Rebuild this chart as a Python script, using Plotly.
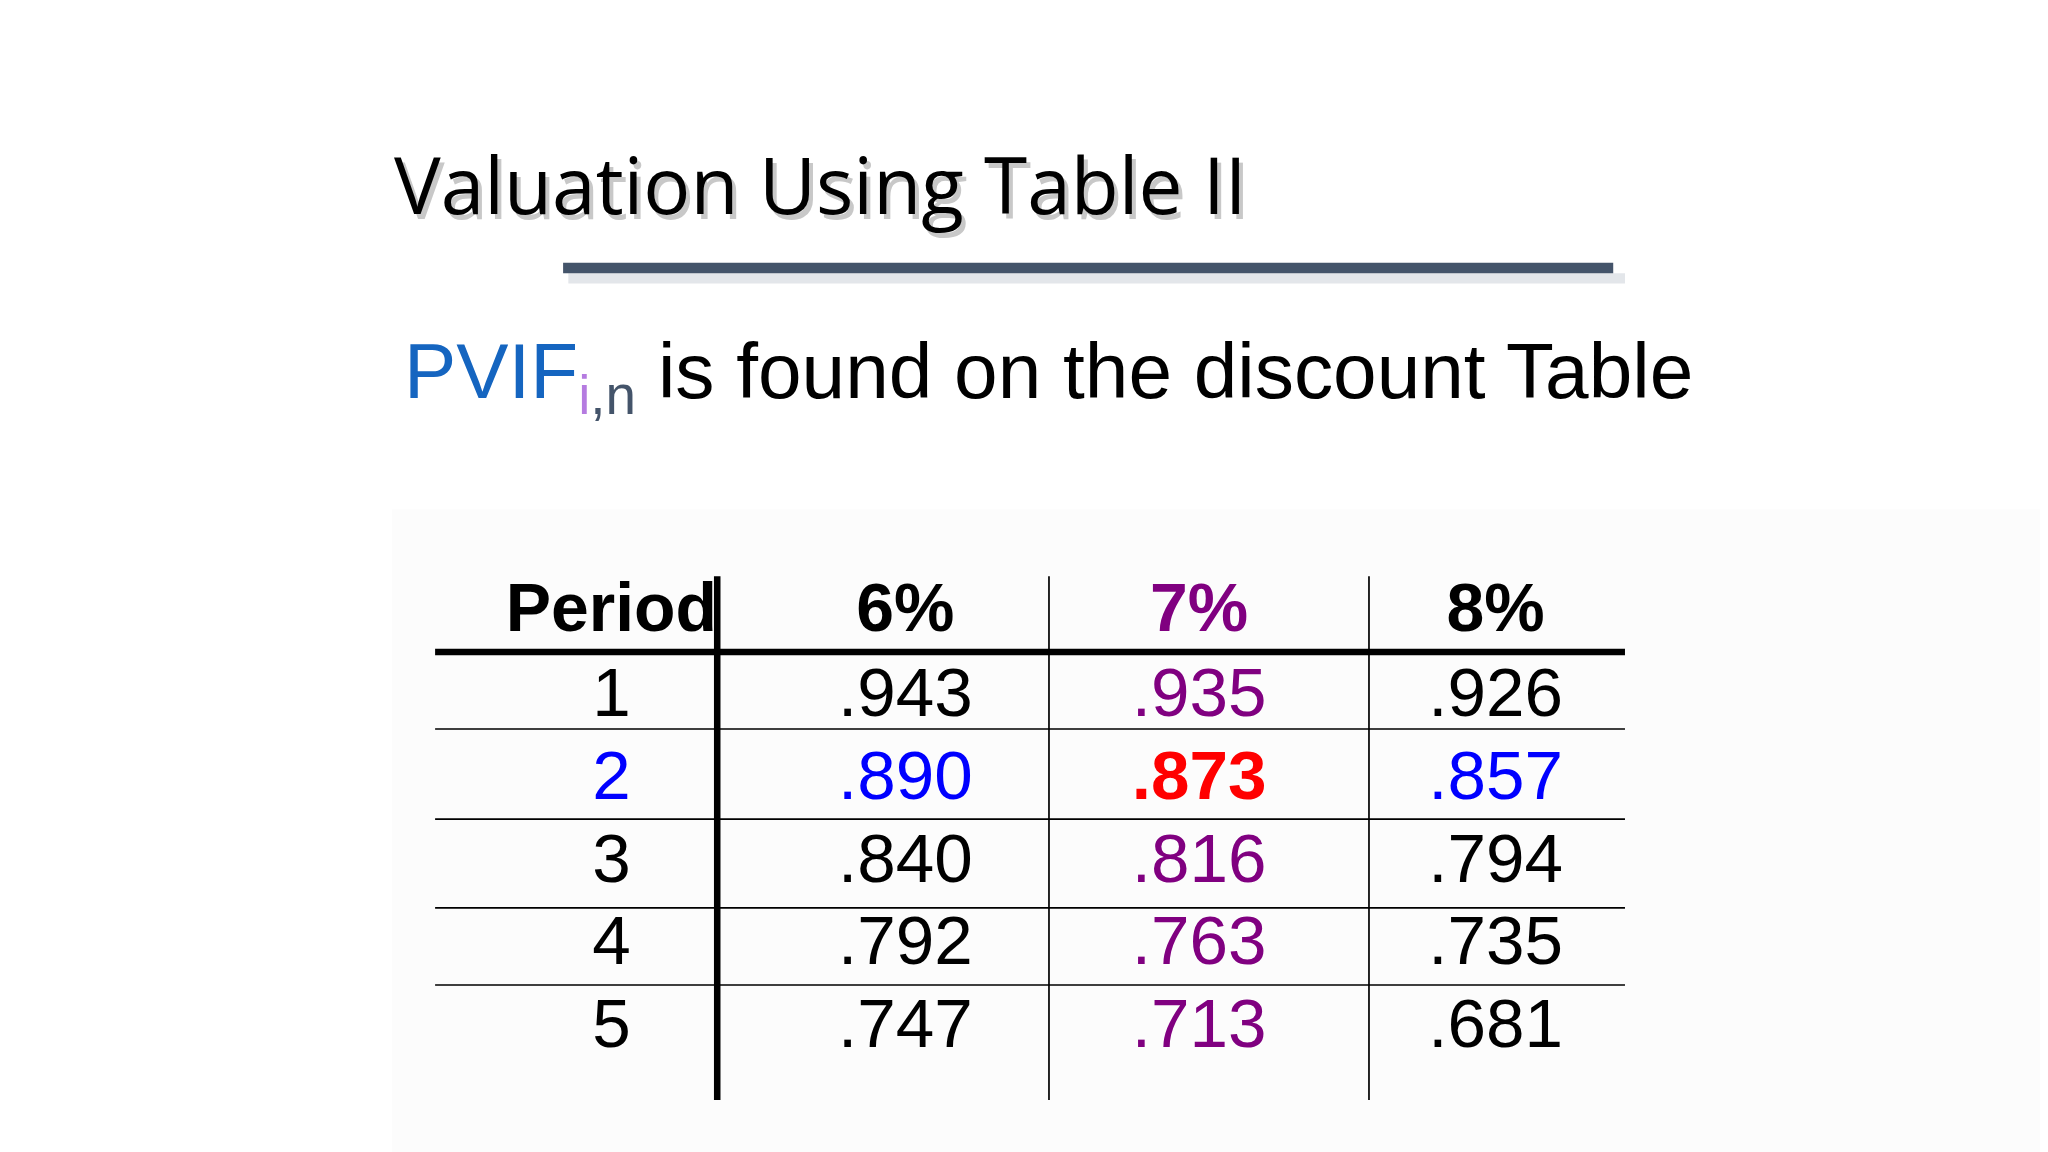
import plotly.graph_objects as go

# table data
periods = [1, 2, 3, 4, 5]
rates = ["6%", "7%", "8%"]
pvif = {
    "6%": [.943, .890, .840, .792, .747],
    "7%": [.935, .873, .816, .763, .713],
    "8%": [.926, .857, .794, .735, .681],
}

W, H = 1568, 882          # reference coordinate frame
S = 2048 / W              # font scale to real pixels

col_x = [468, 693, 918, 1145]
row_y = [535, 598, 662, 725, 788]
header_y = 470

def fmt(v):
    return ("%.3f" % v)[1:]

fig = go.Figure()

# faint slide panel
shapes = [dict(type="rect", x0=300, x1=W + 10, y0=390, y1=H + 10, fillcolor="#fcfcfc", line_width=0, layer="below")]

# title underline with shadow
shapes.append(dict(type="line", x0=435, x1=1244, y0=213, y1=213, line=dict(color="#e3e6ea", width=8 * S)))
shapes.append(dict(type="line", x0=431, x1=1235, y0=205, y1=205, line=dict(color="#44546a", width=8 * S)))

# table grid
shapes.append(dict(type="line", x0=333, x1=1244, y0=499, y1=499, line=dict(color="black", width=5 * S)))
for y in [558, 627, 695, 754]:
    shapes.append(dict(type="line", x0=333, x1=1244, y0=y, y1=y, line=dict(color="black", width=1.3 * S)))
shapes.append(dict(type="line", x0=549, x1=549, y0=441, y1=842, line=dict(color="black", width=5 * S)))
for x in [803, 1048]:
    shapes.append(dict(type="line", x0=x, x1=x, y0=441, y1=842, line=dict(color="black", width=1.3 * S)))

# header row
hdr_colors = ["black", "black", "#800080", "black"]
fig.add_trace(go.Scatter(
    x=col_x, y=[header_y] * 4, mode="text",
    text=["<b>Period</b>"] + ["<b>%s</b>" % r for r in rates],
    textfont=dict(family="Liberation Sans", size=52 * S, color=hdr_colors),
    hoverinfo="skip", showlegend=False))

# period column
fig.add_trace(go.Scatter(
    x=[col_x[0]] * len(periods), y=row_y, mode="text",
    text=[str(p) for p in periods],
    textfont=dict(family="Liberation Sans", size=53 * S,
                  color=["#0000ff" if p == 2 else "black" for p in periods]),
    hoverinfo="skip", showlegend=False))

# value columns
for j, r in enumerate(rates):
    txt, cols = [], []
    for i, v in enumerate(pvif[r]):
        if r == "7%" and periods[i] == 2:
            txt.append("<b>%s</b>" % fmt(v)); cols.append("#ff0000")
        elif periods[i] == 2:
            txt.append(fmt(v)); cols.append("#0000ff")
        elif r == "7%":
            txt.append(fmt(v)); cols.append("#800080")
        else:
            txt.append(fmt(v)); cols.append("black")
    fig.add_trace(go.Scatter(
        x=[col_x[j + 1]] * len(row_y), y=row_y, mode="text", text=txt,
        textfont=dict(family="Liberation Sans", size=53 * S, color=cols),
        hoverinfo="skip", showlegend=False))

annotations = [
    dict(x=303, y=144, text="Valuation Using Table II", xanchor="left", yanchor="middle",
         showarrow=False, font=dict(family="Open Sans", size=60 * S, color="#c8c8c8")),
    dict(x=300, y=140, text="Valuation Using Table II", xanchor="left", yanchor="middle",
         showarrow=False, font=dict(family="Open Sans", size=60 * S, color="black")),
    dict(x=308, y=288,
         text="<span style='color:#1565c0'>PVIF</span><sub><span style='color:#b57be0'>i</span>"
              "<span style='color:#44546a'>,n</span></sub> is found on the discount Table",
         xanchor="left", yanchor="middle", showarrow=False,
         font=dict(family="Liberation Sans", size=60 * S, color="black")),
]

fig.update_layout(
    width=2048, height=1152, margin=dict(l=0, r=0, t=0, b=0),
    paper_bgcolor="white", plot_bgcolor="white",
    xaxis=dict(range=[6, W + 6], visible=False, fixedrange=True),
    yaxis=dict(range=[H + 6, 6], visible=False, fixedrange=True),
    shapes=shapes, annotations=annotations,
)

fig.write_html("out.html")
